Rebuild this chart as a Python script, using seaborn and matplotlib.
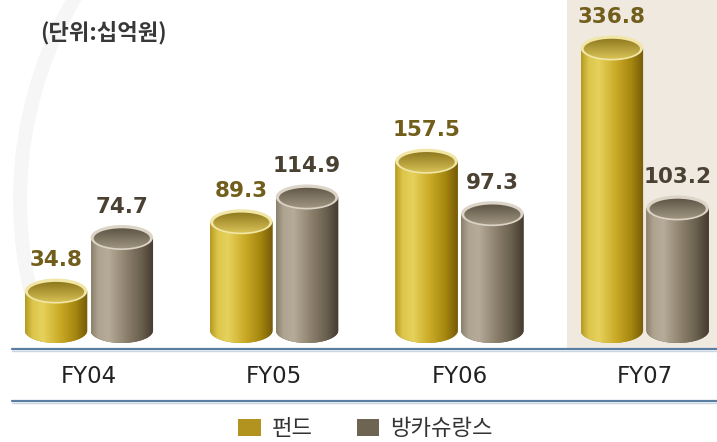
import numpy as np
import pandas as pd
import matplotlib
matplotlib.use('Agg')
import matplotlib.pyplot as plt
import seaborn as sns
from matplotlib.transforms import IdentityTransform
from matplotlib.patches import Ellipse, Arc
from matplotlib.path import Path
from matplotlib.lines import Line2D
from matplotlib.colors import to_rgb

# ---------------- data ----------------
years = ['FY04', 'FY05', 'FY06', 'FY07']
fund = [34.8, 89.3, 157.5, 336.8]
banca = [74.7, 114.9, 97.3, 103.2]
series_names = ['펀드', '방카슈랑스']
unit_label = '(단위:십억원)'

df = pd.DataFrame({
    'year': years * 2,
    'series': [series_names[0]] * len(years) + [series_names[1]] * len(years),
    'value': fund + banca,
})

# ---------------- style ----------------
sns.set_theme(style='white')
plt.rcParams['font.family'] = ['DejaVu Sans', 'Noto Sans CJK KR']

W, H = 717, 442
fig = plt.figure(figsize=(W / 100, H / 100), dpi=100)
fig.patch.set_facecolor('white')

ax_bottom_px = 343
ax = fig.add_axes([0, (H - ax_bottom_px) / H, 1, ax_bottom_px / H])
ax.set_facecolor('none')

legend_cols = ['#b39320', '#6e6452']
sns.barplot(data=df, x='year', y='value', hue='series', palette=legend_cols,
            width=0.71, gap=0.05, linewidth=0, saturation=1, errorbar=None, ax=ax)

ax.set_yscale('function', functions=(np.sqrt, np.square))
ax.set_ylim(10.5, 433)
ax.set_xlim(-0.48, 3.39)
ax.set_autoscale_on(False)
for s in ax.spines.values():
    s.set_visible(False)
ax.set_yticks([])
ax.set_xlabel('')
ax.set_ylabel('')
ax.tick_params(axis='x', length=0, pad=16, labelsize=16.5, labelcolor='#222222')

# FY07 highlight band
ax.axvspan(3 - 0.42, 3.39, ymin=-6 / ax_bottom_px, ymax=1, color='#efe9e0',
           zorder=0, clip_on=False, lw=0)

# ---------------- cylinder styling ----------------
def hgrad(stops, pos, n=256):
    xs = np.linspace(0, 1, n)
    rgb = np.array([to_rgb(c) for c in stops])
    arr = np.stack([np.interp(xs, pos, rgb[:, i]) for i in range(3)], axis=-1)
    return arr[None, :, :]

def vgrad(c_top, c_bot, n=64):
    a = np.array(to_rgb(c_top)); b = np.array(to_rgb(c_bot))
    t = np.linspace(0, 1, n)[:, None]
    return (a * (1 - t) + b * t)[:, None, :]

pos = [0, 0.12, 0.28, 0.55, 0.8, 1]
body_grads = [
    hgrad(['#b59a22', '#dcc54a', '#e6d25c', '#cbab27', '#a6870f', '#75590a'], pos),
    hgrad(['#8a806c', '#aea490', '#b5ab98', '#8e826e', '#6a604e', '#433b2f'], pos),
]
rim_cols = ['#f1e6a6', '#dcd4c6']
top_grads = [vgrad('#856e16', '#dcc65a'), vgrad('#544b3c', '#a39984')]
label_colors = ['#715e1b', '#4a4133']

ident = IdentityTransform()
py_bottom = ax.transAxes.transform((0, 0))[1]
b = 12.5
for k, cont in enumerate(ax.containers):
    for rect in cont.patches:
        x0 = rect.get_x(); w = rect.get_width(); h = rect.get_height()
        px0, py_top = ax.transData.transform((x0, h))
        px1, _ = ax.transData.transform((x0 + w, h))
        a = (px1 - px0) / 2
        xc = (px0 + px1) / 2
        yb = py_bottom + b
        t = np.linspace(np.pi, 2 * np.pi, 48)
        verts = [(px0, py_top)] + [(xc + a * np.cos(tt), yb + b * np.sin(tt)) for tt in t] \
            + [(px1, py_top), (px0, py_top)]
        path = Path(verts, closed=True)
        rect.set_clip_path(path, ident)
        im = ax.imshow(body_grads[k], extent=(px0, px1, py_bottom, py_top), transform=ident,
                       aspect='auto', interpolation='bilinear', zorder=2.5)
        im.set_clip_path(path, ident)

        rim = Ellipse((xc, py_top), 2 * a, 2 * b, transform=ident,
                      facecolor=rim_cols[k], edgecolor='none', zorder=3)
        ax.add_artist(rim)
        inner = Ellipse((xc, py_top - 0.8), 2 * a * 0.9, 2 * b * 0.8, transform=ident)
        im2 = ax.imshow(top_grads[k], extent=(xc - a, xc + a, py_top - b, py_top + b),
                        transform=ident, aspect='auto', interpolation='bilinear', zorder=3.5)
        im2.set_clip_path(inner)

for cont, c in zip(ax.containers, label_colors):
    ax.bar_label(cont, fmt='%.1f', padding=15, color=c, fontsize=15.5,
                 fontweight='bold', zorder=5)

# ---------------- decorations ----------------
fig.add_artist(Arc((420, H - 200), 800, 800, theta1=148, theta2=200, transform=ident,
                   color='#f6f6f6', lw=10, zorder=-1))

for ypx in (349, 401):
    fig.add_artist(Line2D([12 / W, 1], [1 - ypx / H] * 2, transform=fig.transFigure,
                          color='#5a7ea2', lw=1.6, zorder=5))
    fig.add_artist(Line2D([12 / W, 1], [1 - (ypx + 1.6) / H] * 2, transform=fig.transFigure,
                          color='#c9d6e3', lw=1.0, zorder=4.9))

fig.text(40 / W, 1 - 33 / H, unit_label, ha='left', va='center', fontsize=16,
         fontweight='bold', color='#383838', family=['Noto Sans CJK KR', 'DejaVu Sans'])

sns.move_legend(ax, 'center', bbox_to_anchor=(0.51, 13 / H), bbox_transform=fig.transFigure,
                ncol=2, frameon=False, title=None, fontsize=16, handlelength=1.0,
                handleheight=0.8, handletextpad=0.5, columnspacing=2.0, labelcolor='#333333')

fig.savefig('out.png', dpi=100)
